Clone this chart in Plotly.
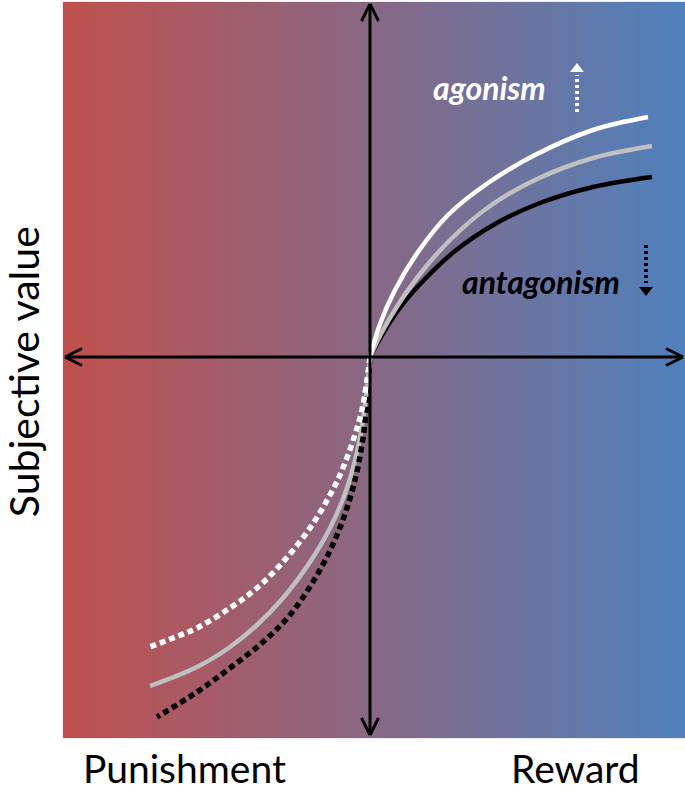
import plotly.graph_objects as go

# ---- data (units: arbitrary reward / subjective value) ----
reward_x_white = [0, 0.10, 0.25, 0.48, 0.78, 1.18, 1.65, 2.23, 2.78]
reward_y_white = [0, 0.33, 0.67, 1.05, 1.42, 1.74, 2.02, 2.27, 2.40]
reward_x_gray = [0, 0.12, 0.28, 0.50, 0.80, 1.20, 1.65, 2.23, 2.82]
reward_y_gray = [0, 0.25, 0.52, 0.83, 1.17, 1.51, 1.77, 1.99, 2.11]
reward_x_black = [0, 0.15, 0.32, 0.55, 0.85, 1.25, 1.70, 2.23, 2.82]
reward_y_black = [0, 0.27, 0.52, 0.78, 1.06, 1.33, 1.54, 1.70, 1.80]

pun_x_white = [0, -0.07, -0.13, -0.27, -0.40, -0.60, -0.87, -1.13, -1.40, -1.73, -1.97, -2.23]
pun_y_white = [0, -0.48, -0.71, -1.11, -1.38, -1.71, -2.05, -2.31, -2.51, -2.71, -2.81, -2.91]
pun_x_gray = [0, -0.03, -0.10, -0.23, -0.40, -0.60, -0.87, -1.13, -1.40, -1.73, -2.20]
pun_y_gray = [0, -0.31, -0.81, -1.31, -1.71, -2.05, -2.41, -2.68, -2.90, -3.10, -3.29]
pun_x_black = [0, -0.02, -0.07, -0.17, -0.33, -0.53, -0.80, -1.07, -1.40, -1.73, -2.13]
pun_y_black = [0, -0.31, -0.81, -1.31, -1.78, -2.18, -2.58, -2.85, -3.11, -3.35, -3.60]

# small indicator arrows: x, dotted-start y, dotted-end y, head y
agonism_arrow = [2.07, 2.45, 2.82, 2.88]
antagonism_arrow = [2.76, 1.12, 0.74, 0.67]

labels = {"agonism": "agonism", "antagonism": "antagonism",
          "x_neg": "Punishment", "x_pos": "Reward", "y": "Subjective value"}

X_RANGE = [-3.07, 3.15]
Y_RANGE = [-3.81, 3.55]

LEFT_COLOR = (192, 80, 77)
RIGHT_COLOR = (79, 129, 189)

fig = go.Figure()

# gradient background
N = 160
shapes = []
for i in range(N):
    t = (i + 0.5) / N
    c = tuple(round(LEFT_COLOR[k] + (RIGHT_COLOR[k] - LEFT_COLOR[k]) * t) for k in range(3))
    x0 = X_RANGE[0] + (X_RANGE[1] - X_RANGE[0]) * i / N
    x1 = X_RANGE[0] + (X_RANGE[1] - X_RANGE[0]) * (i + 1) / N
    shapes.append(dict(type="rect", xref="x", yref="y", x0=x0, x1=x1 + 0.01,
                       y0=Y_RANGE[0], y1=Y_RANGE[1], line=dict(width=0),
                       fillcolor="rgb(%d,%d,%d)" % c, layer="below"))
shapes.append(dict(type="rect", xref="paper", yref="paper", x0=0, x1=1, y0=0, y1=1,
                   line=dict(color="#d8d8d8", width=1), layer="below"))

# axes with open arrowheads
AX = "black"
AW = 3
ytop, ybot = Y_RANGE[1] - 0.02, Y_RANGE[0] + 0.03
xl, xr = X_RANGE[0] + 0.02, X_RANGE[1] - 0.02
hx, hy = 0.085, 0.17
axis_lines = [
    (0, ybot, 0, ytop),
    (-hx, ytop - hy, 0, ytop), (hx, ytop - hy, 0, ytop),
    (-hx, ybot + hy, 0, ybot), (hx, ybot + hy, 0, ybot),
    (xl, 0, xr, 0),
    (xr - hy, hx, xr, 0), (xr - hy, -hx, xr, 0),
    (xl + hy, hx, xl, 0), (xl + hy, -hx, xl, 0),
]
for (a, b, c, d) in axis_lines:
    shapes.append(dict(type="line", xref="x", yref="y", x0=a, y0=b, x1=c, y1=d,
                       line=dict(color=AX, width=AW), layer="above"))

LW = 4.5
DOT = "6px,4px"

def add(x, y, color, dash=None, width=LW):
    fig.add_trace(go.Scatter(x=x, y=y, mode="lines",
                             line=dict(color=color, width=width, shape="spline",
                                       smoothing=1.0, dash=dash or "solid"),
                             hoverinfo="skip", showlegend=False))

add(pun_x_gray, pun_y_gray, "#c0c0c0")
add(pun_x_black, pun_y_black, "black", DOT, 5.5)
add(pun_x_white, pun_y_white, "white", DOT, 5.5)
add(reward_x_black, reward_y_black, "black")
add(reward_x_gray, reward_y_gray, "#c0c0c0")
add(reward_x_white, reward_y_white, "white")

# indicator arrows
for (xa, y0, y1, yh), col, sym in [(agonism_arrow, "white", "triangle-up"),
                                   (antagonism_arrow, "black", "triangle-down")]:
    fig.add_trace(go.Scatter(x=[xa, xa], y=[y0, y1], mode="lines",
                             line=dict(color=col, width=4, dash="3px,3px"),
                             hoverinfo="skip", showlegend=False))
    fig.add_trace(go.Scatter(x=[xa], y=[yh], mode="markers",
                             marker=dict(symbol=sym, size=12, color=col, line=dict(width=0)),
                             hoverinfo="skip", showlegend=False))

FONT = "Lato, 'Noto Sans', sans-serif"
BOTTOM = -54 / 736
annotations = [
    dict(x=1.19, y=2.70, xref="x", yref="y", text="<b><i>%s</i></b>" % labels["agonism"],
         showarrow=False, font=dict(family=FONT, size=32, color="white")),
    dict(x=1.71, y=0.76, xref="x", yref="y", text="<b><i>%s</i></b>" % labels["antagonism"],
         showarrow=False, font=dict(family=FONT, size=32, color="black")),
    dict(x=-1.86, y=BOTTOM, xref="x", yref="paper", text=labels["x_neg"], showarrow=False,
         yanchor="bottom", borderpad=0, font=dict(family=FONT, size=39, color="black")),
    dict(x=2.05, y=BOTTOM, xref="x", yref="paper", text=labels["x_pos"], showarrow=False,
         yanchor="bottom", borderpad=0, font=dict(family=FONT, size=39, color="black")),
    dict(x=-0.064, y=-0.15, xref="paper", yref="y", text=labels["y"], showarrow=False,
         textangle=-90, xanchor="center", yanchor="middle",
         font=dict(family=FONT, size=41, color="black")),
]

fig.update_layout(
    width=685, height=792,
    margin=dict(l=63, r=0, t=2, b=54),
    paper_bgcolor="white", plot_bgcolor="white",
    xaxis=dict(range=X_RANGE, visible=False, fixedrange=True),
    yaxis=dict(range=Y_RANGE, visible=False, fixedrange=True),
    shapes=shapes, annotations=annotations, showlegend=False,
)

fig.write_html("out.html", config={"displayModeBar": False},
               post_script="document.body.style.margin='0';document.body.style.overflow='hidden';")
